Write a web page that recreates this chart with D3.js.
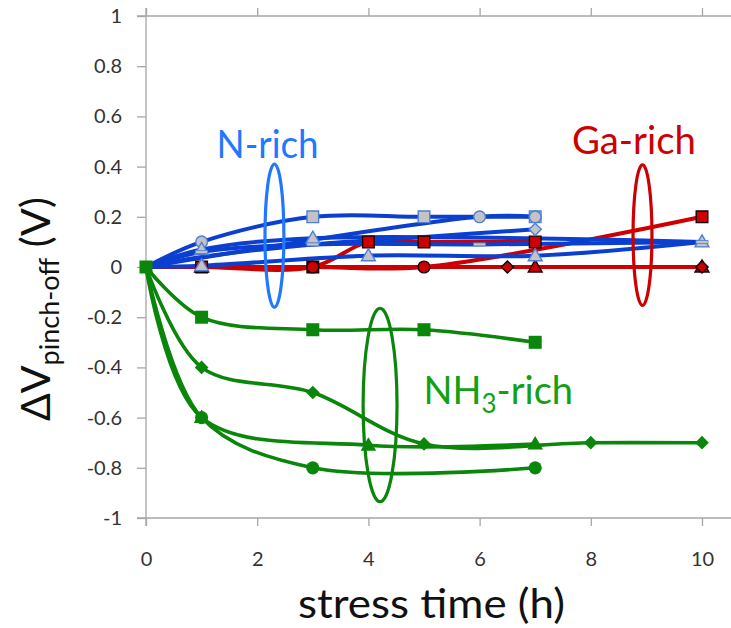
<!DOCTYPE html>
<html>
<head>
<meta charset="utf-8">
<script src="https://cdn.jsdelivr.net/npm/d3@7"></script>
<style>
  html, body { margin: 0; padding: 0; background: #fff; }
  svg { display: block; }
  text { font-family: Lato, "Open Sans", "Noto Sans", sans-serif; }
</style>
</head>
<body>
<svg id="chart" width="731" height="628"></svg>
<script>
// ---------- data ----------
const xTicks = [0, 2, 4, 6, 8, 10];
const yTicks = [1, 0.8, 0.6, 0.4, 0.2, 0, -0.2, -0.4, -0.6, -0.8, -1];

// N-rich (blue)
const nSqT = [0, 1, 3, 5, 7];        const nSqV = [0, 0.1, 0.2, 0.2, 0.2];
const nSqM = [null, "circle", "square", "square", "square"];
const nCiT = [0, 6, 7];              const nCiV = [0, 0.2, 0.2];
const nCiM = [null, "circle", "circle"];
const nTrT = [0, 1, 3, 10];          const nTrV = [0, 0.07, 0.115, 0.1];
const nTrM = [null, "triangle", "triangle", "triangle"];
const nDaT = [0, 1, 3, 6, 10];       const nDaV = [0, 0.06, 0.09, 0.09, 0.1];
const nDaM = [null, "dash", "dash", "dash", "dash"];
const nT2T = [0, 1, 4, 7, 10];       const nT2V = [0, 0.005, 0.045, 0.045, 0.1];
const nT2M = [null, "triangle", "triangle", "triangle", null];
const nDiT = [0, 1, 3, 5, 7];        const nDiV = [0, 0.04, 0.09, 0.12, 0.15];
const nDiM = [null, null, null, null, "diamond"];

// Ga-rich (red)
const gSqT = [0, 1, 3, 4, 5, 7];     const gSqV = [0, 0, 0, 0.1, 0.1, 0.1];
const gSqM = [null, "square", "square", "square", "square", "square"];
const gCiT = [0, 3, 5, 10];          const gCiV = [0, 0, 0, 0.2];
const gCiM = [null, "circle", "circle", "square"];
const gTrT = [0, 1, 7, 10];          const gTrV = [0, 0, 0, 0];
const gTrM = [null, "triangle", "triangle", "triangle"];
const gDiT = [0, 6.5, 10];           const gDiV = [0, 0, 0];
const gDiM = [null, "diamond", "diamond"];

// NH3-rich (green)
const aSqT = [0, 1, 3, 5, 7];        const aSqV = [0, -0.2, -0.25, -0.25, -0.3];
const aSqM = ["square", "square", "square", "square", "square"];
const aDiT = [0, 1, 3, 5, 8, 10];    const aDiV = [0, -0.4, -0.5, -0.705, -0.7, -0.7];
const aDiM = [null, "diamond", "diamond", "diamond", "diamond", "diamond"];
const aTrT = [0, 1, 4, 7];           const aTrV = [0, -0.6, -0.71, -0.705];
const aTrM = [null, "triangle", "triangle", "triangle"];
const aCiT = [0, 1, 3, 7];           const aCiV = [0, -0.6, -0.8, -0.8];
const aCiM = [null, "circle", "circle", "circle"];

// group annotations: [centre t, centre v, radius t, radius v]
const ellN = [2.31, 0.125, 0.17, 0.285];
const ellG = [8.93, 0.127, 0.17, 0.28];
const ellA = [4.21, -0.55, 0.305, 0.385];
// label anchors [t, v]
const labN = [1.27, 0.434];
const labG = [7.66, 0.452];
const labA = [4.99, -0.546];

// ---------- layout ----------
const W = 731, H = 628;
const x = d3.scaleLinear().domain([0, 10]).range([146, 702]);
const y = d3.scaleLinear().domain([-1, 1]).range([518, 16]);
const svg = d3.select("#chart");

const axisCol = "#a6a6a6";
const tickTxt = "#333333";
const blueLine = "#0b3fd0", blueMkFill = "#c3c3c3", blueMkStroke = "#4f7fd8";
const redLine = "#cc0000", redMk = "#cc0000";
const greenLine = "#0a860a";
const blueTxt = "#1f78ff", redTxt = "#cc0000", greenTxt = "#13a013";

// ---------- axes ----------
const gAx = svg.append("g");
const leftAxis = d3.axisLeft(y).tickValues(yTicks).tickSize(9).tickPadding(15)
  .tickFormat(d => d === 0 ? "0" : String(+d.toFixed(1)));
gAx.append("g").attr("transform", `translate(${x(0)},0)`).call(leftAxis)
  .call(g => g.select(".domain").remove())
  .call(g => g.selectAll("line").attr("stroke", axisCol).attr("stroke-width", 1.3))
  .call(g => g.selectAll("text").attr("fill", tickTxt).style("font-size", "20px").attr("font-family", null));
gAx.append("line").attr("x1", x(0)).attr("x2", x(0)).attr("y1", y(1) - 8).attr("y2", y(-1) + 8)
  .attr("stroke", axisCol).attr("stroke-width", 1.3);
const bottomAxis = d3.axisBottom(x).tickValues(xTicks).tickSize(8).tickPadding(8)
  .tickFormat(d3.format("d"));
gAx.append("g").attr("transform", `translate(0,${y(-1)})`).call(bottomAxis)
  .call(g => g.select(".domain").remove())
  .call(g => g.selectAll("line").attr("stroke", axisCol).attr("stroke-width", 1.3))
  .call(g => g.selectAll("text").attr("fill", tickTxt).style("font-size", "20px").attr("font-family", null)
     .attr("dy", null).attr("y", 48));
gAx.append("line").attr("x1", x(0) - 9).attr("x2", W).attr("y1", y(-1)).attr("y2", y(-1))
  .attr("stroke", axisCol).attr("stroke-width", 1.3);
const topAxis = d3.axisTop(x).tickValues(xTicks).tickSize(8).tickFormat("");
gAx.append("g").attr("transform", `translate(0,${y(1)})`).call(topAxis)
  .call(g => g.select(".domain").remove())
  .call(g => g.selectAll("line").attr("stroke", axisCol).attr("stroke-width", 1.3));
gAx.append("line").attr("x1", x(0) - 9).attr("x2", W).attr("y1", y(1)).attr("y2", y(1))
  .attr("stroke", axisCol).attr("stroke-width", 1.3);

// axis titles
svg.append("text").attr("x", 298).attr("y", 618)
  .attr("textLength", 267).attr("lengthAdjust", "spacingAndGlyphs")
  .style("font-size", "40px").attr("fill", "#111").text("stress time (h)");

const yt = svg.append("text").attr("transform", "translate(50,421) rotate(-90)")
  .attr("fill", "#111").style("font-size", "41px");
yt.append("tspan").text("ΔV");
yt.append("tspan").attr("dy", 9).style("font-size", "27px").text("pinch-off");
yt.append("tspan").attr("dy", -9).text(" (V)");

// ---------- series ----------
function mk(T, V, M) { return T.map((t, i) => ({ t, v: V[i], m: M[i] })); }
const blueS = [mk(nSqT, nSqV, nSqM), mk(nCiT, nCiV, nCiM), mk(nTrT, nTrV, nTrM),
               mk(nDaT, nDaV, nDaM), mk(nT2T, nT2V, nT2M), mk(nDiT, nDiV, nDiM)];
const redS = [mk(gSqT, gSqV, gSqM), mk(gCiT, gCiV, gCiM), mk(gTrT, gTrV, gTrM), mk(gDiT, gDiV, gDiM)];
const greenS = [mk(aSqT, aSqV, aSqM), mk(aDiT, aDiV, aDiM), mk(aTrT, aTrV, aTrM), mk(aCiT, aCiV, aCiM)];

const line = d3.line().x(d => x(d.t)).y(d => y(d.v)).curve(d3.curveCatmullRom.alpha(0.5));

function drawLines(S, col, w) {
  svg.append("g").selectAll("path").data(S).join("path")
    .attr("d", line).attr("fill", "none").attr("stroke", col).attr("stroke-width", w)
    .attr("stroke-linejoin", "round").attr("stroke-linecap", "round");
}
drawLines(redS, redLine, 4);
drawLines(blueS, blueLine, 4);
drawLines(greenS, greenLine, 3.6);

const shapes = {
  square: [d3.symbolSquare, 1, 0],
  circle: [d3.symbolCircle, 0.8, 0],
  triangle: [d3.symbolTriangle, 0.62, 0],
  diamond: [d3.symbolSquare, 0.55, 45]
};
function drawMarkers(S, fill, stroke, sw, base) {
  const pts = S.flat().filter(d => d.m);
  const g = svg.append("g");
  g.selectAll("path").data(pts.filter(d => d.m !== "dash")).join("path")
    .attr("d", d => d3.symbol(shapes[d.m][0], base * shapes[d.m][1])())
    .attr("transform", d => `translate(${x(d.t)},${y(d.v) + (d.m === "triangle" ? 1 : 0)}) rotate(${shapes[d.m][2]})`)
    .attr("fill", fill).attr("stroke", stroke).attr("stroke-width", sw);
  g.selectAll("rect").data(pts.filter(d => d.m === "dash")).join("rect")
    .attr("x", d => x(d.t) - 6).attr("y", d => y(d.v) - 1.5).attr("width", 12).attr("height", 3)
    .attr("fill", fill).attr("stroke", stroke).attr("stroke-width", 0.8);
}
drawMarkers(redS, redMk, "#1a0000", 1.4, 135);
drawMarkers(blueS, blueMkFill, blueMkStroke, 1.4, 135);
drawMarkers(greenS, greenLine, "none", 0, 170);

// ---------- ellipses ----------
const ells = [[ellN, blueTxt], [ellG, redLine], [ellA, greenLine]];
svg.append("g").selectAll("ellipse").data(ells).join("ellipse")
  .attr("cx", d => x(d[0][0])).attr("cy", d => y(d[0][1]))
  .attr("rx", d => x(d[0][2]) - x(0)).attr("ry", d => y(0) - y(d[0][3]))
  .attr("fill", "none").attr("stroke", d => d[1]).attr("stroke-width", 3.2);

// ---------- group labels ----------
svg.append("text").attr("x", x(labN[0])).attr("y", y(labN[1]))
  .attr("textLength", 102).attr("lengthAdjust", "spacingAndGlyphs")
  .style("font-size", "38px").attr("fill", blueTxt).text("N-rich");
svg.append("text").attr("x", x(labG[0])).attr("y", y(labG[1]))
  .attr("textLength", 124).attr("lengthAdjust", "spacingAndGlyphs")
  .style("font-size", "38px").attr("fill", redTxt).text("Ga-rich");
const ta = svg.append("text").attr("x", x(labA[0])).attr("y", y(labA[1]))
  .style("font-size", "38px").attr("fill", greenTxt);
ta.append("tspan").text("NH");
ta.append("tspan").attr("dy", 9).style("font-size", "26px").text("3");
ta.append("tspan").attr("dy", -9).text("-rich");
</script>
</body>
</html>
